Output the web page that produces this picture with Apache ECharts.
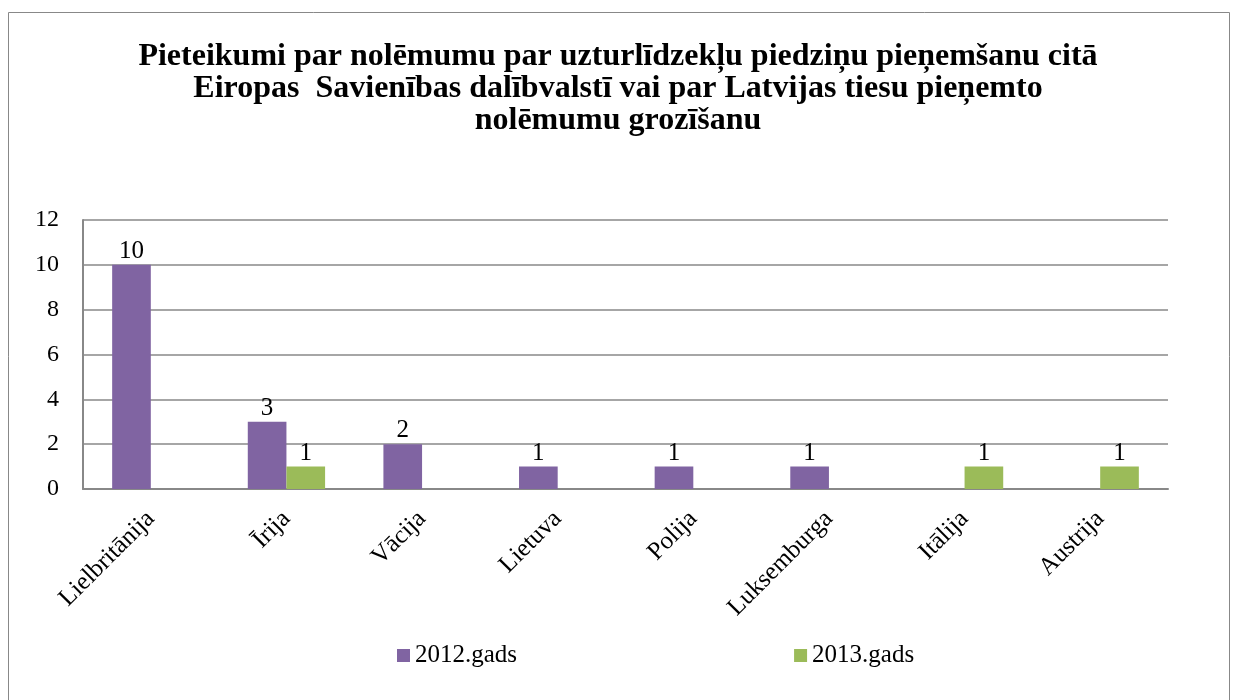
<!DOCTYPE html>
<html>
<head>
<meta charset="utf-8">
<script src="https://cdn.jsdelivr.net/npm/echarts@6/dist/echarts.min.js"></script>
<style>
	html, body { margin: 0; padding: 0; background: #fff; }
	#chart { width: 1236px; height: 700px; }
</style>
</head>
<body>
<div id="chart"></div>
<script>
var titleText = 'Pieteikumi par nolēmumu par uzturlīdzekļu piedziņu pieņemšanu citā\nEiropas  Savienības dalībvalstī vai par Latvijas tiesu pieņemto\nnolēmumu grozīšanu'
var countries = ['Lielbritānija', 'Īrija', 'Vācija', 'Lietuva', 'Polija', 'Luksemburga', 'Itālija', 'Austrija']
var values2012 = [10, 3, 2, 1, 1, 1, null, null]
var values2013 = [null, 1, null, null, null, null, 1, 1]
var seriesNames = ['2012.gads', '2013.gads']

var serif = '"Liberation Serif", "DejaVu Serif", serif'

var chart = echarts.init(document.getElementById('chart'))

var labelStyle = {
	show: true,
	position: 'top',
	distance: 1,
	color: '#000',
	fontFamily: serif,
	fontSize: 25
}

chart.setOption({
	animation: false,
	backgroundColor: '#fff',
	graphic: [
		{
			type: 'rect',
			shape: { x: 8.5, y: 12.5, width: 1221, height: 700 },
			style: { fill: 'none', stroke: '#888', lineWidth: 1 }
		}
	],
	title: {
		text: titleText,
		left: 'center',
		top: 36,
		textStyle: {
			fontFamily: serif,
			fontSize: 32,
			fontWeight: 'bold',
			color: '#000',
			lineHeight: 32
		}
	},
	grid: {
		left: 83,
		right: 68,
		top: 220,
		bottom: 211
	},
	legend: {
		bottom: 27,
		left: 392,
		itemGap: 277,
		itemWidth: 13,
		itemHeight: 13,
		icon: 'rect',
		textStyle: {
			fontFamily: serif,
			fontSize: 25,
			color: '#000'
		},
		data: seriesNames
	},
	xAxis: {
		type: 'category',
		data: countries,
		axisTick: { show: false },
		axisLine: { lineStyle: { color: '#888', width: 2 } },
		axisLabel: {
			rotate: 45,
			interval: 0,
			margin: 26,
			color: '#000',
			fontFamily: serif,
			fontSize: 25
		}
	},
	yAxis: {
		type: 'value',
		min: 0,
		max: 12,
		interval: 2,
		axisLine: { show: true, lineStyle: { color: '#888', width: 2 } },
		axisTick: { show: false },
		splitLine: { lineStyle: { color: '#888', width: 1.5 } },
		axisLabel: {
			margin: 24,
			color: '#000',
			fontFamily: serif,
			fontSize: 24
		}
	},
	series: [
		{
			name: seriesNames[0],
			type: 'bar',
			data: values2012,
			barGap: '0%',
			barCategoryGap: '43%',
			itemStyle: { color: '#8064A2' },
			label: labelStyle
		},
		{
			name: seriesNames[1],
			type: 'bar',
			data: values2013,
			itemStyle: { color: '#9BBB59' },
			label: labelStyle
		}
	]
})
</script>
</body>
</html>
